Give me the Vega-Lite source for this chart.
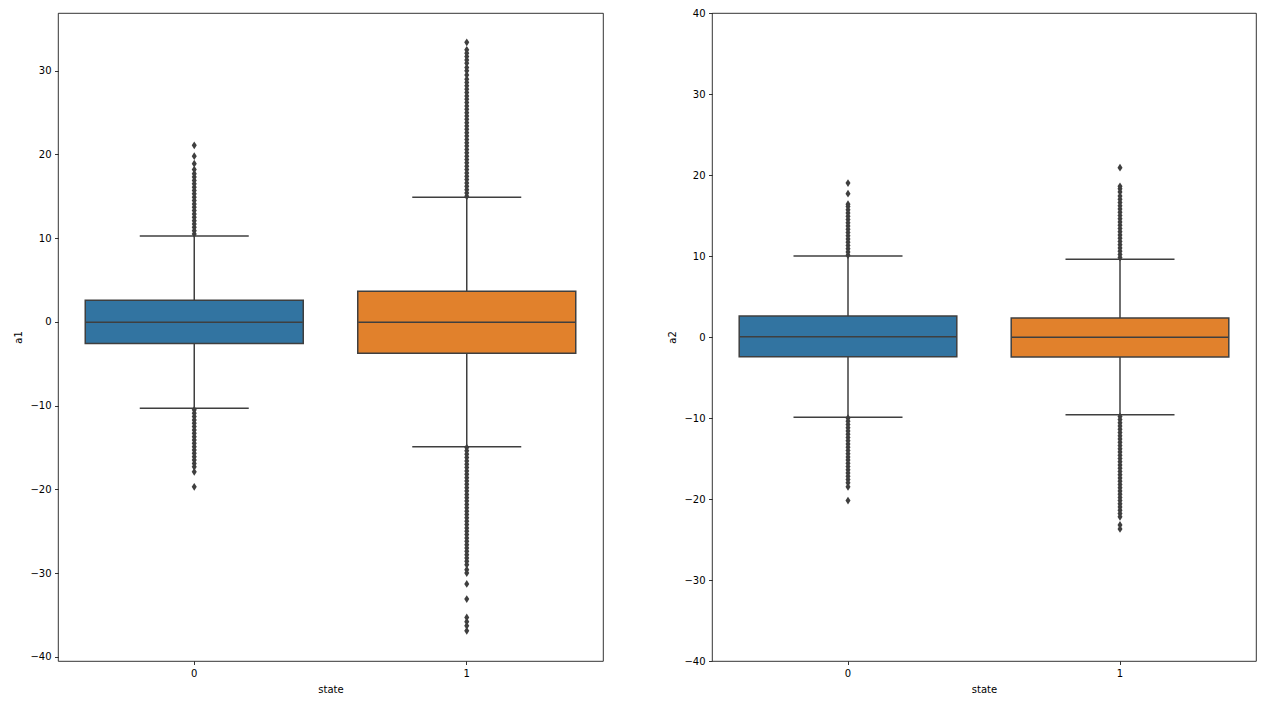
{
  "$schema": "https://vega.github.io/schema/vega-lite/v6.json",
  "background": "white",
  "padding": {"left": 13, "top": 7, "right": 5, "bottom": 5},
  "spacing": 63,
  "datasets": {
    "boxes": [
      {"var": "a1", "state": "0", "lower": -10.3, "q1": -2.58, "median": -0.05, "q3": 2.6, "upper": 10.25},
      {"var": "a1", "state": "1", "lower": -14.9, "q1": -3.75, "median": -0.05, "q3": 3.67, "upper": 14.9},
      {"var": "a2", "state": "0", "lower": -9.9, "q1": -2.43, "median": 0.04, "q3": 2.6, "upper": 10.0},
      {"var": "a2", "state": "1", "lower": -9.6, "q1": -2.47, "median": -0.03, "q3": 2.35, "upper": 9.6}
    ],
    "out": [
      {"var":"a1","state":"0","value":10.5},{"var":"a1","state":"0","value":10.9},{"var":"a1","state":"0","value":11.3},{"var":"a1","state":"0","value":11.7},{"var":"a1","state":"0","value":12.1},{"var":"a1","state":"0","value":12.5},{"var":"a1","state":"0","value":12.9},{"var":"a1","state":"0","value":13.3},{"var":"a1","state":"0","value":13.7},{"var":"a1","state":"0","value":14.1},{"var":"a1","state":"0","value":14.5},{"var":"a1","state":"0","value":14.9},{"var":"a1","state":"0","value":15.3},{"var":"a1","state":"0","value":15.7},{"var":"a1","state":"0","value":16.1},{"var":"a1","state":"0","value":16.5},{"var":"a1","state":"0","value":16.9},{"var":"a1","state":"0","value":17.3},{"var":"a1","state":"0","value":17.7},{"var":"a1","state":"0","value":18.2},{"var":"a1","state":"0","value":18.9},{"var":"a1","state":"0","value":19.8},{"var":"a1","state":"0","value":21.1},
      {"var":"a1","state":"0","value":-10.5},{"var":"a1","state":"0","value":-10.9},{"var":"a1","state":"0","value":-11.3},{"var":"a1","state":"0","value":-11.7},{"var":"a1","state":"0","value":-12.1},{"var":"a1","state":"0","value":-12.5},{"var":"a1","state":"0","value":-12.9},{"var":"a1","state":"0","value":-13.3},{"var":"a1","state":"0","value":-13.7},{"var":"a1","state":"0","value":-14.1},{"var":"a1","state":"0","value":-14.5},{"var":"a1","state":"0","value":-14.9},{"var":"a1","state":"0","value":-15.3},{"var":"a1","state":"0","value":-15.7},{"var":"a1","state":"0","value":-16.1},{"var":"a1","state":"0","value":-16.5},{"var":"a1","state":"0","value":-16.9},{"var":"a1","state":"0","value":-17.3},{"var":"a1","state":"0","value":-17.9},{"var":"a1","state":"0","value":-19.7},
      {"var":"a1","state":"1","value":15.0},{"var":"a1","state":"1","value":15.4},{"var":"a1","state":"1","value":15.8},{"var":"a1","state":"1","value":16.2},{"var":"a1","state":"1","value":16.6},{"var":"a1","state":"1","value":17.0},{"var":"a1","state":"1","value":17.4},{"var":"a1","state":"1","value":17.8},{"var":"a1","state":"1","value":18.2},{"var":"a1","state":"1","value":18.6},{"var":"a1","state":"1","value":19.0},{"var":"a1","state":"1","value":19.4},{"var":"a1","state":"1","value":19.8},{"var":"a1","state":"1","value":20.2},{"var":"a1","state":"1","value":20.6},{"var":"a1","state":"1","value":21.0},{"var":"a1","state":"1","value":21.4},{"var":"a1","state":"1","value":21.8},{"var":"a1","state":"1","value":22.2},{"var":"a1","state":"1","value":22.6},{"var":"a1","state":"1","value":23.0},{"var":"a1","state":"1","value":23.4},{"var":"a1","state":"1","value":23.8},{"var":"a1","state":"1","value":24.2},{"var":"a1","state":"1","value":24.6},{"var":"a1","state":"1","value":25.0},{"var":"a1","state":"1","value":25.4},{"var":"a1","state":"1","value":25.8},{"var":"a1","state":"1","value":26.2},{"var":"a1","state":"1","value":26.6},{"var":"a1","state":"1","value":27.0},{"var":"a1","state":"1","value":27.4},{"var":"a1","state":"1","value":27.8},{"var":"a1","state":"1","value":28.2},{"var":"a1","state":"1","value":28.6},{"var":"a1","state":"1","value":29.0},{"var":"a1","state":"1","value":29.5},{"var":"a1","state":"1","value":30.0},{"var":"a1","state":"1","value":30.4},{"var":"a1","state":"1","value":30.9},{"var":"a1","state":"1","value":31.3},{"var":"a1","state":"1","value":31.7},{"var":"a1","state":"1","value":32.1},{"var":"a1","state":"1","value":32.5},{"var":"a1","state":"1","value":33.4},
      {"var":"a1","state":"1","value":-15.0},{"var":"a1","state":"1","value":-15.4},{"var":"a1","state":"1","value":-15.8},{"var":"a1","state":"1","value":-16.2},{"var":"a1","state":"1","value":-16.6},{"var":"a1","state":"1","value":-17.0},{"var":"a1","state":"1","value":-17.4},{"var":"a1","state":"1","value":-17.8},{"var":"a1","state":"1","value":-18.2},{"var":"a1","state":"1","value":-18.6},{"var":"a1","state":"1","value":-19.0},{"var":"a1","state":"1","value":-19.4},{"var":"a1","state":"1","value":-19.8},{"var":"a1","state":"1","value":-20.2},{"var":"a1","state":"1","value":-20.6},{"var":"a1","state":"1","value":-21.0},{"var":"a1","state":"1","value":-21.4},{"var":"a1","state":"1","value":-21.8},{"var":"a1","state":"1","value":-22.2},{"var":"a1","state":"1","value":-22.6},{"var":"a1","state":"1","value":-23.0},{"var":"a1","state":"1","value":-23.4},{"var":"a1","state":"1","value":-23.8},{"var":"a1","state":"1","value":-24.2},{"var":"a1","state":"1","value":-24.6},{"var":"a1","state":"1","value":-25.0},{"var":"a1","state":"1","value":-25.4},{"var":"a1","state":"1","value":-25.8},{"var":"a1","state":"1","value":-26.2},{"var":"a1","state":"1","value":-26.6},{"var":"a1","state":"1","value":-27.0},{"var":"a1","state":"1","value":-27.4},{"var":"a1","state":"1","value":-27.8},{"var":"a1","state":"1","value":-28.2},{"var":"a1","state":"1","value":-28.6},{"var":"a1","state":"1","value":-29.0},{"var":"a1","state":"1","value":-29.6},{"var":"a1","state":"1","value":-30.0},{"var":"a1","state":"1","value":-31.3},{"var":"a1","state":"1","value":-33.1},{"var":"a1","state":"1","value":-35.3},{"var":"a1","state":"1","value":-35.8},{"var":"a1","state":"1","value":-36.3},{"var":"a1","state":"1","value":-36.9},
      {"var":"a2","state":"0","value":10.1},{"var":"a2","state":"0","value":10.5},{"var":"a2","state":"0","value":10.9},{"var":"a2","state":"0","value":11.3},{"var":"a2","state":"0","value":11.7},{"var":"a2","state":"0","value":12.1},{"var":"a2","state":"0","value":12.5},{"var":"a2","state":"0","value":12.9},{"var":"a2","state":"0","value":13.3},{"var":"a2","state":"0","value":13.7},{"var":"a2","state":"0","value":14.1},{"var":"a2","state":"0","value":14.5},{"var":"a2","state":"0","value":14.9},{"var":"a2","state":"0","value":15.3},{"var":"a2","state":"0","value":15.7},{"var":"a2","state":"0","value":16.1},{"var":"a2","state":"0","value":16.4},{"var":"a2","state":"0","value":17.7},{"var":"a2","state":"0","value":19.0},
      {"var":"a2","state":"0","value":-10.0},{"var":"a2","state":"0","value":-10.4},{"var":"a2","state":"0","value":-10.8},{"var":"a2","state":"0","value":-11.2},{"var":"a2","state":"0","value":-11.6},{"var":"a2","state":"0","value":-12.0},{"var":"a2","state":"0","value":-12.4},{"var":"a2","state":"0","value":-12.8},{"var":"a2","state":"0","value":-13.2},{"var":"a2","state":"0","value":-13.6},{"var":"a2","state":"0","value":-14.0},{"var":"a2","state":"0","value":-14.4},{"var":"a2","state":"0","value":-14.8},{"var":"a2","state":"0","value":-15.2},{"var":"a2","state":"0","value":-15.6},{"var":"a2","state":"0","value":-16.0},{"var":"a2","state":"0","value":-16.4},{"var":"a2","state":"0","value":-16.8},{"var":"a2","state":"0","value":-17.2},{"var":"a2","state":"0","value":-17.6},{"var":"a2","state":"0","value":-18.0},{"var":"a2","state":"0","value":-18.5},{"var":"a2","state":"0","value":-20.2},
      {"var":"a2","state":"1","value":9.8},{"var":"a2","state":"1","value":10.2},{"var":"a2","state":"1","value":10.6},{"var":"a2","state":"1","value":11.0},{"var":"a2","state":"1","value":11.4},{"var":"a2","state":"1","value":11.8},{"var":"a2","state":"1","value":12.2},{"var":"a2","state":"1","value":12.6},{"var":"a2","state":"1","value":13.0},{"var":"a2","state":"1","value":13.4},{"var":"a2","state":"1","value":13.8},{"var":"a2","state":"1","value":14.2},{"var":"a2","state":"1","value":14.6},{"var":"a2","state":"1","value":15.0},{"var":"a2","state":"1","value":15.4},{"var":"a2","state":"1","value":15.8},{"var":"a2","state":"1","value":16.2},{"var":"a2","state":"1","value":16.6},{"var":"a2","state":"1","value":17.0},{"var":"a2","state":"1","value":17.4},{"var":"a2","state":"1","value":17.9},{"var":"a2","state":"1","value":18.3},{"var":"a2","state":"1","value":18.6},{"var":"a2","state":"1","value":20.9},
      {"var":"a2","state":"1","value":-9.8},{"var":"a2","state":"1","value":-10.2},{"var":"a2","state":"1","value":-10.6},{"var":"a2","state":"1","value":-11.0},{"var":"a2","state":"1","value":-11.4},{"var":"a2","state":"1","value":-11.8},{"var":"a2","state":"1","value":-12.2},{"var":"a2","state":"1","value":-12.6},{"var":"a2","state":"1","value":-13.0},{"var":"a2","state":"1","value":-13.4},{"var":"a2","state":"1","value":-13.8},{"var":"a2","state":"1","value":-14.2},{"var":"a2","state":"1","value":-14.6},{"var":"a2","state":"1","value":-15.0},{"var":"a2","state":"1","value":-15.4},{"var":"a2","state":"1","value":-15.8},{"var":"a2","state":"1","value":-16.2},{"var":"a2","state":"1","value":-16.6},{"var":"a2","state":"1","value":-17.0},{"var":"a2","state":"1","value":-17.4},{"var":"a2","state":"1","value":-17.8},{"var":"a2","state":"1","value":-18.2},{"var":"a2","state":"1","value":-18.6},{"var":"a2","state":"1","value":-19.0},{"var":"a2","state":"1","value":-19.4},{"var":"a2","state":"1","value":-19.8},{"var":"a2","state":"1","value":-20.2},{"var":"a2","state":"1","value":-20.6},{"var":"a2","state":"1","value":-21.0},{"var":"a2","state":"1","value":-21.4},{"var":"a2","state":"1","value":-21.8},{"var":"a2","state":"1","value":-22.2},{"var":"a2","state":"1","value":-23.2},{"var":"a2","state":"1","value":-23.7}
    ]
  },
  "hconcat": [
    {
      "width": 545,
      "height": 648,
      "encoding": {
        "x": {"field": "state", "type": "nominal", "scale": {"domain": ["0", "1"], "paddingInner": 0, "paddingOuter": 0}, "axis": {"title": "state", "labelAngle": 0}}
      },
      "layer": [
        {
          "data": {"name": "boxes"},
          "transform": [{"filter": "datum.var === 'a1'"}],
          "mark": {"type": "rule", "color": "#3f3f3f", "strokeWidth": 1.5},
          "encoding": {
            "y": {"field": "lower", "type": "quantitative", "scale": {"domain": [-40.5, 36.9], "nice": false, "zero": false}, "axis": {"title": "a1", "values": [-40, -30, -20, -10, 0, 10, 20, 30]}},
            "y2": {"field": "upper"}
          }
        },
        {
          "data": {"name": "boxes"},
          "transform": [{"filter": "datum.var === 'a1'"}],
          "mark": {"type": "bar", "width": {"band": 0.8}, "stroke": "#3f3f3f", "strokeWidth": 1.5},
          "encoding": {
            "y": {"field": "q1", "type": "quantitative", "title": "a1"},
            "y2": {"field": "q3"},
            "color": {"field": "state", "type": "nominal", "scale": {"domain": ["0", "1"], "range": ["#3274a1", "#e1812c"]}, "legend": null}
          }
        },
        {
          "data": {"name": "boxes"},
          "transform": [{"filter": "datum.var === 'a1'"}],
          "mark": {"type": "tick", "size": 217, "thickness": 1.5, "color": "#3f3f3f", "opacity": 1},
          "encoding": {"y": {"field": "median", "type": "quantitative", "title": "a1"}}
        },
        {
          "data": {"name": "boxes"},
          "transform": [{"filter": "datum.var === 'a1'"}],
          "mark": {"type": "tick", "size": 109, "thickness": 1.5, "color": "#3f3f3f", "opacity": 1},
          "encoding": {"y": {"field": "lower", "type": "quantitative", "title": "a1"}}
        },
        {
          "data": {"name": "boxes"},
          "transform": [{"filter": "datum.var === 'a1'"}],
          "mark": {"type": "tick", "size": 109, "thickness": 1.5, "color": "#3f3f3f", "opacity": 1},
          "encoding": {"y": {"field": "upper", "type": "quantitative", "title": "a1"}}
        },
        {
          "data": {"name": "out"},
          "transform": [{"filter": "datum.var === 'a1'"}],
          "mark": {"type": "point", "shape": "M0,-1L0.65,0L0,1L-0.65,0Z", "filled": true, "size": 60, "color": "#3f3f3f", "opacity": 1},
          "encoding": {"y": {"field": "value", "type": "quantitative", "title": "a1"}}
        }
      ]
    },
    {
      "width": 544,
      "height": 648,
      "encoding": {
        "x": {"field": "state", "type": "nominal", "scale": {"domain": ["0", "1"], "paddingInner": 0, "paddingOuter": 0}, "axis": {"title": "state", "labelAngle": 0}}
      },
      "layer": [
        {
          "data": {"name": "boxes"},
          "transform": [{"filter": "datum.var === 'a2'"}],
          "mark": {"type": "rule", "color": "#3f3f3f", "strokeWidth": 1.5},
          "encoding": {
            "y": {"field": "lower", "type": "quantitative", "scale": {"domain": [-40, 40], "nice": false, "zero": false}, "axis": {"title": "a2", "values": [-40, -30, -20, -10, 0, 10, 20, 30, 40]}},
            "y2": {"field": "upper"}
          }
        },
        {
          "data": {"name": "boxes"},
          "transform": [{"filter": "datum.var === 'a2'"}],
          "mark": {"type": "bar", "width": {"band": 0.8}, "stroke": "#3f3f3f", "strokeWidth": 1.5},
          "encoding": {
            "y": {"field": "q1", "type": "quantitative", "title": "a2"},
            "y2": {"field": "q3"},
            "color": {"field": "state", "type": "nominal", "scale": {"domain": ["0", "1"], "range": ["#3274a1", "#e1812c"]}, "legend": null}
          }
        },
        {
          "data": {"name": "boxes"},
          "transform": [{"filter": "datum.var === 'a2'"}],
          "mark": {"type": "tick", "size": 217, "thickness": 1.5, "color": "#3f3f3f", "opacity": 1},
          "encoding": {"y": {"field": "median", "type": "quantitative", "title": "a2"}}
        },
        {
          "data": {"name": "boxes"},
          "transform": [{"filter": "datum.var === 'a2'"}],
          "mark": {"type": "tick", "size": 109, "thickness": 1.5, "color": "#3f3f3f", "opacity": 1},
          "encoding": {"y": {"field": "lower", "type": "quantitative", "title": "a2"}}
        },
        {
          "data": {"name": "boxes"},
          "transform": [{"filter": "datum.var === 'a2'"}],
          "mark": {"type": "tick", "size": 109, "thickness": 1.5, "color": "#3f3f3f", "opacity": 1},
          "encoding": {"y": {"field": "upper", "type": "quantitative", "title": "a2"}}
        },
        {
          "data": {"name": "out"},
          "transform": [{"filter": "datum.var === 'a2'"}],
          "mark": {"type": "point", "shape": "M0,-1L0.65,0L0,1L-0.65,0Z", "filled": true, "size": 60, "color": "#3f3f3f", "opacity": 1},
          "encoding": {"y": {"field": "value", "type": "quantitative", "title": "a2"}}
        }
      ]
    }
  ],
  "resolve": {"scale": {"y": "independent", "color": "shared"}},
  "config": {
    "view": {"stroke": "black", "strokeWidth": 0.8},
    "axis": {
      "domain": false,
      "grid": false,
      "ticks": true,
      "tickColor": "black",
      "tickSize": 3.5,
      "tickWidth": 0.8,
      "labelColor": "black",
      "labelFont": "DejaVu Sans",
      "labelFontSize": 10,
      "labelPadding": 3.5,
      "titleFont": "DejaVu Sans",
      "titleFontSize": 10,
      "titleFontWeight": "normal",
      "titleColor": "black",
      "titlePadding": 6
    }
  }
}
